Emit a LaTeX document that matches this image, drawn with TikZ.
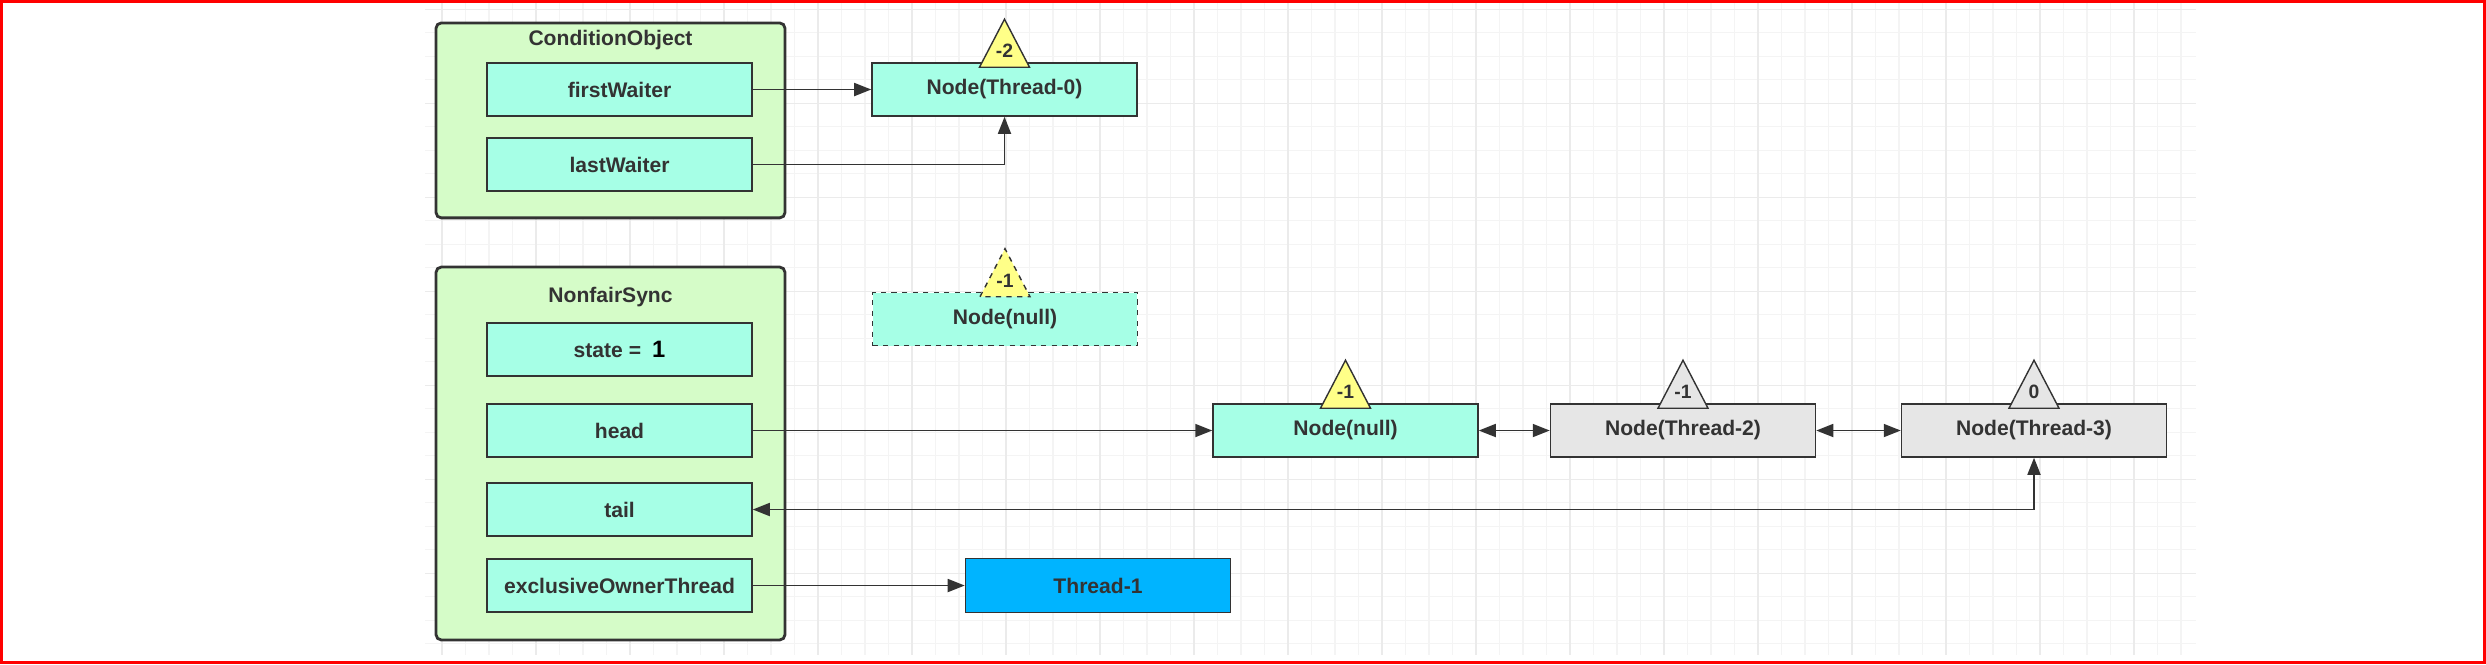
\documentclass[tikz,border=0pt]{standalone}
\usepackage{fontspec}
\setmainfont{Liberation Sans}
\usetikzlibrary{positioning,arrows.meta,calc}

\definecolor{frameRed}{HTML}{FF0000}
\definecolor{gridMinor}{HTML}{F4F4F4}
\definecolor{gridMajor}{HTML}{EBEBEB}
\definecolor{boxGreen}{HTML}{D5FCC8}
\definecolor{fieldAqua}{HTML}{A6FFE6}
\definecolor{nodeGray}{HTML}{E6E6E6}
\definecolor{flagYellow}{HTML}{FFFF88}
\definecolor{threadBlue}{HTML}{00B4FF}
\definecolor{inkGray}{HTML}{333333}

\tikzset{
  gridminor/.style={draw=gridMinor, line width=0.6pt},
  gridmajor/.style={draw=gridMajor, line width=0.6pt},
  holder/.style={draw=inkGray, line width=1.6pt, rounded corners=3pt, fill=boxGreen, minimum width=6.98cm},
  field/.style={draw=inkGray, line width=0.9pt, fill=fieldAqua, minimum width=5.3cm, minimum height=1.06cm, inner sep=0pt},
  qnode/.style={field},
  flagtri/.style={draw=inkGray, line width=0.8pt},
  flaglabel/.style={inner sep=0pt, font=\bfseries\fontsize{11}{12}\selectfont},
  wire/.style={draw=inkGray, line width=1pt}
}

\begin{document}
\begin{tikzpicture}[x=0.02cm, y=-0.02cm, >={Triangle[length=0.34cm,width=0.26cm]},
  font=\bfseries\fontsize{12}{14}\selectfont, text=inkGray]
  \useasboundingbox (0,0) rectangle (2486,664);
  % background grid
  \foreach \i in {0,...,74} \draw[gridminor] ({442+23.5*\i},3) -- ({442+23.5*\i},655);
  \foreach \j in {0,...,27} \draw[gridminor] (425,{9.3+23.5*\j}) -- (2196,{9.3+23.5*\j});
  \foreach \i in {0,...,18} \draw[gridmajor] ({442+94*\i},3) -- ({442+94*\i},655);
  \foreach \j in {0,...,6} \draw[gridmajor] (425,{9.3+94*\j}) -- (2196,{9.3+94*\j});
  \draw[frameRed, line width=0.06cm] (1.5,1.5) rectangle (2484.5,662.5);

  % ConditionObject
  \node[holder, minimum height=3.9cm] (co) at (610.5,120.4) {};
  \node (coTitle) at (610.5,40) {ConditionObject};
  \node[field] (fw) at (619.5,89.5) {firstWaiter};
  \node[field] (lw) at (619.5,164.5) {lastWaiter};

  % NonfairSync
  \node[holder, minimum height=7.46cm] (ns) at (610.5,453.5) {};
  \node (nsTitle) at (610.5,297) {NonfairSync};
  \node[field] (st) at (619.5,349.5) {state =\hspace{0.22cm}{\color{black}\fontsize{13.5}{14}\selectfont 1}};
  \node[field] (hd) at (619.5,430.5) {head};
  \node[field] (tl) at (619.5,509.5) {tail};
  \node[field] (eo) at (619.5,585.5) {exclusiveOwnerThread};

  % queue nodes
  \node[qnode] (n0) at (1004.5,89.5) {Node(Thread-0)};
  \node[qnode, dashed] (nd) at (1005,319) {Node(null)};
  \node[qnode] (nn) at (1345.5,430.5) {Node(null)};
  \node[qnode, fill=nodeGray] (n2) at (1683,430.5) {Node(Thread-2)};
  \node[qnode, fill=nodeGray] (n3) at (2034,430.5) {Node(Thread-3)};
  \node[qnode, fill=threadBlue, minimum height=1.08cm] (t1) at (1098,585.5) {Thread-1};

  % connectors
  \draw[->, wire] (fw) -- (n0);
  \draw[->, wire] (lw.east) -| (n0.south);
  \draw[->, wire] (hd) -- (nn);
  \draw[<->, wire] (nn) -- (n2);
  \draw[<->, wire] (n2) -- (n3);
  \draw[<->, wire] (tl.east) -| (n3.south);
  \draw[->, wire] (eo) -- (t1);

  % waitStatus flags
  \foreach \n/\v/\c/\s in {n0/-2/flagYellow/solid, nd/-1/flagYellow/dashed, nn/-1/flagYellow/solid, n2/-1/nodeGray/solid, n3/0/nodeGray/solid}{
    \draw[flagtri, fill=\c, \s] ($(\n.north)+(-25,5)$) -- ($(\n.north)+(0,-43)$) -- ($(\n.north)+(25,5)$) -- cycle;
    \node[flaglabel] (\n-flag) at ($(\n.north)+(0,-11)$) {\v};
  }
\end{tikzpicture}
\end{document}
